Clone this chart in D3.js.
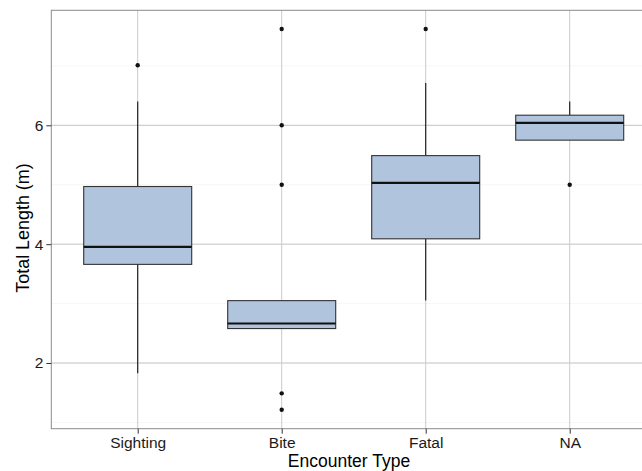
<!DOCTYPE html>
<html><head><meta charset="utf-8">
<script src="https://cdn.jsdelivr.net/npm/d3@7/dist/d3.min.js"></script>
<style>body{margin:0;background:#fff}svg{display:block;font-family:"Liberation Sans",Arial,sans-serif}</style>
</head><body><svg id="c" width="642" height="471"></svg>
<script>
const categories = ["Sighting","Bite","Fatal","NA"];
const lowerWhisker = [1.83, 2.58, 3.05, 5.75];
const q1 = [3.66, 2.58, 4.09, 5.75];
const median = [3.955, 2.665, 5.03, 6.04];
const q3 = [4.97, 3.05, 5.49, 6.17];
const upperWhisker = [6.40, 3.05, 6.71, 6.40];
const outliers = [[7.01], [7.62, 6.0, 5.0, 1.49, 1.215], [7.62], [5.0]];
const yTicks = [2, 4, 6];
const yMinor = [1, 3, 5, 7];
const xTitle = "Encounter Type";
const yTitle = "Total Length (m)";

const svg = d3.select("#c");
const L = 51.3, R = 656.1, T = 10.3, B = 428.7;
const x = d3.scalePoint().domain(categories).range([L, R]).padding(0.6);
const y = d3.scaleLinear().domain([0.895, 7.935]).range([B, T]);
const bw = x.step() * 0.75;

const g = svg.append("g");
g.selectAll(".minor").data(yMinor).join("line")
  .attr("x1", L).attr("x2", R).attr("y1", d => y(d)).attr("y2", d => y(d))
  .attr("stroke", "#f7f7f7").attr("stroke-width", 1);
g.selectAll(".major").data(yTicks).join("line")
  .attr("x1", L).attr("x2", R).attr("y1", d => y(d)).attr("y2", d => y(d))
  .attr("stroke", "#c2c2c2").attr("stroke-width", 1);
g.selectAll(".vgrid").data(categories).join("line")
  .attr("x1", d => x(d)).attr("x2", d => x(d)).attr("y1", T).attr("y2", B)
  .attr("stroke", "#cbcbcb").attr("stroke-width", 1);

const data = categories.map((c, i) => ({c, lw: lowerWhisker[i], q1: q1[i], md: median[i], q3: q3[i], uw: upperWhisker[i], out: outliers[i]}));
const bx = g.selectAll(".box").data(data).join("g");
bx.append("line").attr("x1", d => x(d.c)).attr("x2", d => x(d.c))
  .attr("y1", d => y(d.q3)).attr("y2", d => y(d.uw)).attr("stroke", "#222").attr("stroke-width", 1.2);
bx.append("line").attr("x1", d => x(d.c)).attr("x2", d => x(d.c))
  .attr("y1", d => y(d.q1)).attr("y2", d => y(d.lw)).attr("stroke", "#222").attr("stroke-width", 1.2);
bx.append("rect").attr("x", d => x(d.c) - bw / 2).attr("width", bw)
  .attr("y", d => y(d.q3)).attr("height", d => y(d.q1) - y(d.q3))
  .attr("fill", "#b0c4de").attr("stroke", "#333").attr("stroke-width", 1.1);
bx.append("line").attr("x1", d => x(d.c) - bw / 2).attr("x2", d => x(d.c) + bw / 2)
  .attr("y1", d => y(d.md)).attr("y2", d => y(d.md)).attr("stroke", "#111").attr("stroke-width", 2.2);
bx.each(function(d) {
  d3.select(this).selectAll("circle").data(d.out).join("circle")
    .attr("cx", x(d.c)).attr("cy", v => y(v)).attr("r", 2.2).attr("fill", "#111");
});

g.append("rect").attr("x", L).attr("y", T).attr("width", R - L).attr("height", B - T)
  .attr("fill", "none").attr("stroke", "#8a8a8a").attr("stroke-width", 1);

const yAxis = g.append("g").attr("transform", `translate(${L},0)`)
  .call(d3.axisLeft(y).tickValues(yTicks).tickFormat(d3.format("d")).tickSize(5).tickPadding(3));
const xAxis = g.append("g").attr("transform", `translate(0,${B})`)
  .call(d3.axisBottom(x).tickSize(5).tickPadding(3));
[yAxis, xAxis].forEach(a => {
  a.select(".domain").remove();
  a.selectAll(".tick line").attr("stroke", "#333");
  a.selectAll("text").attr("fill", "#1a1a1a").style("font-size", "15.5px").style("font-family", "Liberation Sans, Arial, sans-serif");
});

svg.append("text").attr("x", 349).attr("y", 466.5).attr("text-anchor", "middle")
  .style("font-size", "17.5px").attr("fill", "#000").text(xTitle);
svg.append("text").attr("transform", `translate(28.5,228) rotate(-90)`).attr("text-anchor", "middle")
  .style("font-size", "17.9px").attr("fill", "#000").text(yTitle);
</script></body></html>
